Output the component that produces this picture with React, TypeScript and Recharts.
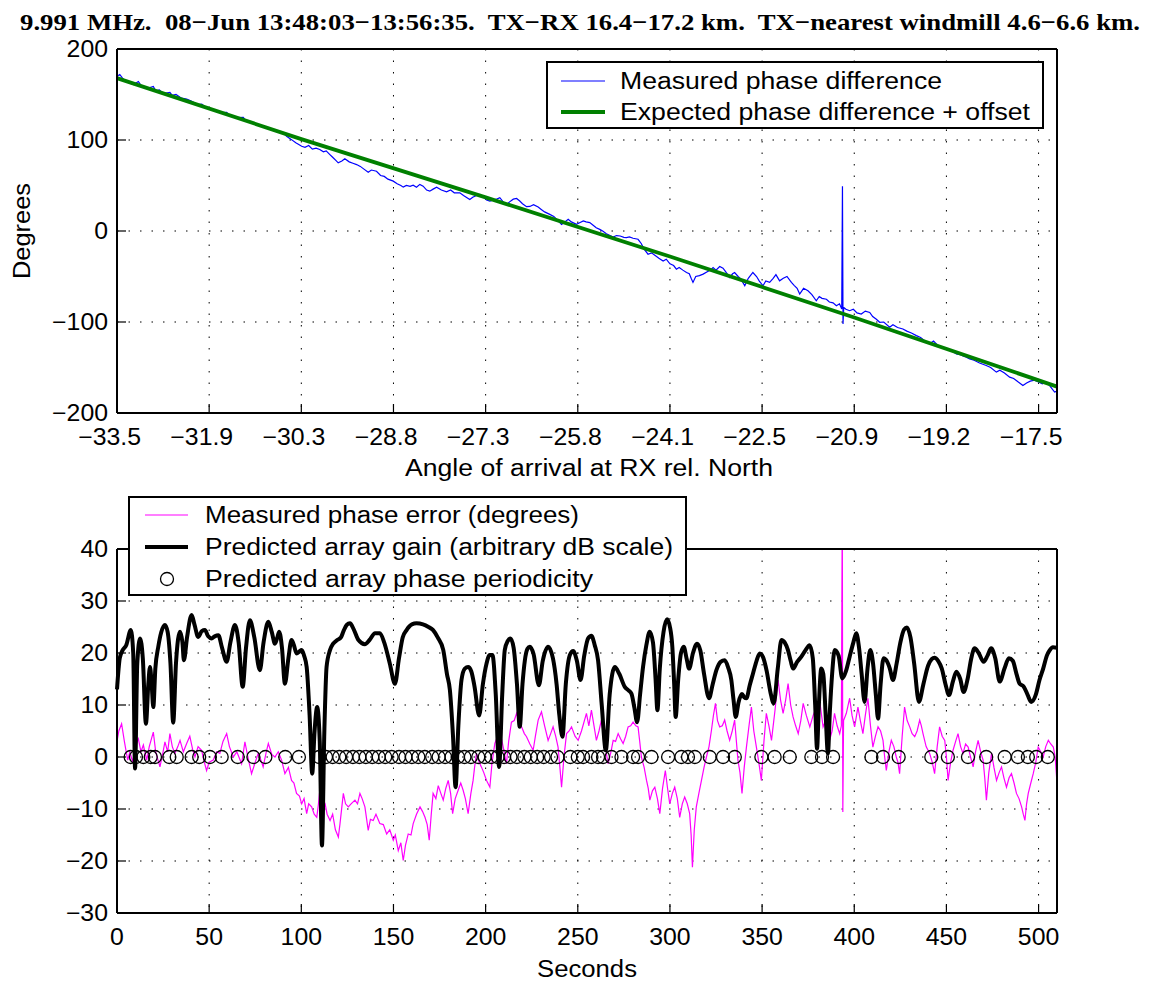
import React from 'react';
import { ComposedChart, Line, Scatter, XAxis, YAxis, CartesianGrid } from 'recharts';

const FONT = '"Liberation Sans", Arial, Helvetica, sans-serif';
const SERIF = '"Liberation Serif", "Times New Roman", serif';

// axis ticks (seconds for both plots; the top plot labels them with the angle of arrival)
const secondTicks = [0, 50, 100, 150, 200, 250, 300, 350, 400, 450, 500];
const angleLabels = ['-33.5', '-31.9', '-30.3', '-28.8', '-27.3', '-25.8', '-24.1', '-22.5', '-20.9', '-19.2', '-17.5'];
const degreeTicks = [-200, -100, 0, 100, 200];
const errorTicks = [-30, -20, -10, 0, 10, 20, 30, 40];

// [seconds, degrees]
const measuredPhase: [number, number][] = [
  [0, 170], [1.5, 172], [3, 168], [5, 164], [7, 162.5], [9, 161], [11.6, 164.3], [13, 160], [15, 158], [17, 157],
  [19.7, 158.8], [21, 154], [23, 155], [25, 151], [28.7, 152.2], [30, 149], [32, 150], [35, 146], [37.8, 145], [40, 143],
  [42, 141], [44, 139], [46, 139.5], [48, 136], [50, 134], [52, 133], [54, 131], [56, 130], [59.5, 130.4], [61, 127],
  [63, 126], [65, 124.5], [68.5, 124.9], [70, 121], [72, 120], [74, 118], [77.5, 115.8], [80, 114], [82, 112.5], [84, 111],
  [87, 109], [90.2, 107.8], [92, 104], [94.7, 100.4], [97, 97], [100.2, 93.1], [102, 92], [104, 94], [106, 90], [108, 91],
  [110, 89.5], [112, 87], [113.5, 88], [115.5, 84], [117, 81], [119, 77], [120, 74.9], [122, 77], [123.6, 79.3], [126, 76],
  [128, 74.5], [130, 73], [132, 71], [134, 68], [136.3, 64.6], [138, 67], [140.8, 65.7], [143, 61], [145, 60], [147, 57],
  [149.9, 54.8], [152, 52], [154, 50], [155.3, 48.2], [157, 50], [159, 49], [160.7, 50.4], [162.5, 48], [164.3, 51.2], [166.1, 49.3],
  [168, 45], [169.7, 43.8], [171.5, 46], [173.4, 48.2], [176, 45], [178.8, 43.1], [181, 45], [183, 42], [186, 42], [188, 39],
  [191.4, 34.7], [193, 37], [195, 39], [196.9, 40.2], [199, 37], [200.5, 34], [202.3, 32.9], [204, 34], [206, 35], [207.7, 36.6],
  [209.5, 32], [211.3, 29.2], [213, 32], [215, 35], [216.8, 35.8], [218.5, 33], [220, 30], [222.2, 26.7], [224, 27], [226, 29],
  [228.5, 26.3], [230, 24], [232, 21], [234.8, 18.3], [237, 16], [239, 12], [241.2, 7.3], [243, 10], [244.8, 12.8], [246.5, 10],
  [249.3, 7.3], [251, 9], [253, 11], [254.5, 10], [256.5, 9.2], [258.5, 6], [260, 3.5], [261.9, 1.8], [263.5, 0], [265.5, -3],
  [267.5, -5], [269.2, -6.6], [271, -5], [273, -5.5], [275, -7], [276.4, -7.2], [278, -6.5], [280, -8], [282.7, -9.1], [284.5, -14],
  [286, -20], [288.1, -25.5], [290, -24], [292, -27], [294, -30], [296.3, -32.9], [298, -31], [300, -36], [302, -38], [303.5, -42],
  [305, -40], [307, -43], [309, -45.6], [310.5, -47], [311.5, -52], [312.5, -56.5], [314, -50], [316, -49], [318, -47.4], [320, -45],
  [322, -43], [323.4, -40.1], [325, -43], [327, -39], [328.8, -40.8], [330, -44], [332.4, -51], [334, -47], [335.1, -45.6], [337, -50],
  [338.5, -53], [340.6, -60.2], [342.5, -52], [345, -45.6], [347, -50], [348.5, -55], [350.5, -60.2], [352, -55], [354.1, -56.5], [356, -52],
  [357.5, -48], [359.5, -54.8], [361.5, -52], [363.5, -50], [365.9, -56.5], [367.5, -60], [369, -63], [370.4, -69.3], [372.5, -63], [374.9, -65.7],
  [377, -70], [379.4, -76.7], [381, -72], [382.5, -74], [384.9, -75], [386.5, -78], [388.5, -79], [390.3, -82.1], [392, -80], [393.2, -85.8],
  [393.6, 49.3], [393.9, -102.2], [394.3, -84], [395.5, -86], [397.5, -87.6], [399.5, -86], [401.5, -90], [403.8, -91.3], [406, -88], [408.4, -89.5],
  [410, -94], [412, -97], [413.8, -100.3], [416, -100], [419.2, -105.8], [421, -103], [423.5, -106], [426.4, -107.7], [428.5, -110], [431, -112],
  [433.7, -115], [436, -117], [438.5, -121], [440.9, -124], [443, -121], [445.5, -126], [448.1, -127.7], [450, -130], [452.5, -131], [455.4, -135],
  [457.5, -136], [460, -138], [462.6, -140.5], [465, -142], [468, -145], [471.6, -147.8], [474, -150], [477.1, -155.1], [479, -153], [481.5, -156],
  [484.3, -160.6], [486.5, -162], [489, -166], [491.5, -169.8], [493.5, -167], [495.5, -165], [497.8, -164], [500, -166], [502, -168], [504.2, -166],
  [506, -170], [508.7, -177], [510, -176],
];

const expectedPhase: [number, number][] = [
  [0, 168], [100, 101], [200, 37], [300, -28], [400, -95], [510, -171],
];

// [seconds, degrees]
const phaseError: [number, number][] = [
  [0, 3], [1, 5], [2.5, 6.4], [4, 3], [5, 1], [5.8, -0.6], [7, 1], [8.5, -1], [10, 2], [11.6, 3.5],
  [13, 1], [14.3, 2.3], [16.1, -0.6], [17.5, 2], [19.7, 4.8], [21, 1], [23.3, -1.9], [25, 1], [26, 2.9], [27.5, 1],
  [28.7, 4.5], [30, 2], [31.4, 0.7], [33, 2], [34.2, 3.2], [36, 1], [37.8, 2.6], [39.5, 4], [41, 1.5], [42.3, 0],
  [44, 2], [45.9, 1.3], [47, -0.5], [48.6, -2.6], [50, -1], [52.2, -0.6], [54, 1], [55.8, 0.7], [57.5, 3], [59.5, 4.5],
  [61, 2], [63.1, 0], [65, 1], [67.6, -1.3], [69.4, 2.9], [71, 0], [73, -3.2], [75, -1], [76.6, 0.7], [78, -0.5],
  [79.3, -1.9], [81, 1], [82.1, 2.6], [84, 0.5], [85.7, 0], [87.5, 1], [89.3, -0.6], [91.1, -3.2], [93, -2], [94.7, -4.5],
  [96, -5], [97.4, -7], [99, -7.5], [100.2, -9], [101.5, -8], [102.9, -10.9], [104, -9], [105.6, -9.6], [107, -11], [108.4, -11.6],
  [109.3, -9], [110.2, -5.8], [111.5, -8], [112.9, -9], [114, -11], [115.6, -12.2], [117, -11], [118.5, -14], [120.1, -15.4], [121, -12.8],
  [122.8, -7], [124, -9], [125.5, -9.6], [127, -9], [129.1, -8.3], [130.5, -9], [131.8, -7], [133, -8], [134.5, -9.6], [136.3, -14.1],
  [137.5, -12], [139, -12.2], [140.5, -11], [142.6, -12.8], [144.5, -13], [146.3, -14.8], [148, -14], [149.9, -16], [151, -15], [152.6, -18],
  [154, -16.5], [155.3, -19.9], [156.5, -17], [158, -14.8], [159.5, -15], [160.7, -12.8], [162.5, -11], [164.4, -9.6], [165.8, -10.5], [167.1, -11.6],
  [168.3, -13], [169.4, -16], [170.5, -11], [171.5, -7], [173, -8], [174.3, -5.5], [175.7, -7], [177, -8.3], [178.4, -6], [179.7, -4.5],
  [181, -7], [182.1, -10.9], [183.5, -8], [185.1, -6.4], [186.5, -5], [187.8, -6.4], [189, -8], [190.5, -10.9], [192, -7], [193.2, -4.5],
  [194, -2], [195, 0.7], [196.5, -1], [197.7, -1.9], [199, -3], [200.5, -4.5], [202.3, -5.8], [203.5, -1], [205, 2.6], [206.5, 4],
  [207.7, 5.1], [209.5, 2], [211.3, -1.3], [212.5, 3], [214, 6.7], [215.5, 7], [216.8, 8.4], [218, 7], [219.5, 5.8], [221, 4.5],
  [222.2, 3.9], [224, 2.5], [225.8, 1.3], [227, 4], [228.5, 7.1], [230.3, 8.7], [232, 6], [233.9, 3.2], [235.3, 4.5], [236.6, 5.8],
  [238, 4], [239.3, 1.9], [240.3, -2], [241.2, -5.8], [242.5, 0], [243.9, 4.5], [245.3, 5], [246.6, 5.8], [248.5, 4], [250.2, 3.2],
  [252, 5], [254.7, 8.4], [256, 6], [257.4, 9], [258.8, 6], [260.1, 3.2], [261.5, 5], [262.8, 7.1], [264.5, 3], [266.4, -1.3],
  [268, 1], [269.2, 3.2], [270.5, 3], [271.9, 4.5], [273.2, 3.5], [274.6, 2.6], [276, 4], [277.3, 5.8], [278.7, 6], [280, 6.7],
  [281.5, 6], [282.7, 5.8], [283.6, 3], [284.5, 0], [286, -2], [287.3, -4.5], [288.2, -6], [289.1, -8.3], [290.5, -6.5], [291.8, -5.8],
  [293.2, -8], [294.5, -10.9], [296, -6], [297.5, -2.6], [298.7, -6], [299.9, -9], [301.3, -7], [302.6, -5.8], [304, -8], [305.3, -11.6],
  [306.7, -9], [308, -7.7], [309.4, -9], [310.7, -10.9], [311.5, -15], [312.2, -21.2], [313.2, -14], [314.3, -9.6], [315.7, -7], [317.1, -4.5],
  [318.5, -2], [319.8, 0], [321.2, 2], [322.5, 5.1], [323.6, 8], [324.7, 10.3], [325.8, 7], [327, 5.8], [328.4, 6], [329.7, 7.1],
  [331, 5], [332.4, 3.2], [333.8, 5], [335.1, 7.1], [336.9, -0.6], [338, -3], [339.1, -7], [340.3, -2], [341.5, 1.9], [342.9, 6],
  [344.2, 9.6], [345.5, 5], [346.9, 1.9], [348.2, -1], [349.6, -4.5], [351, 3], [352.3, 8.4], [353.7, 6], [355.1, 3.2], [357, 9],
  [358.7, 14.8], [360, 11], [361.4, 8.4], [362.8, 11], [364.1, 14.1], [365.5, 10], [366.8, 7.7], [368.2, 6], [369.6, 4.5], [371, 7],
  [372.3, 10.3], [374, 8], [375.9, 5.8], [377.7, 8], [379.5, 9.6], [381.2, 10.9], [383.1, 5.8], [384.5, 7], [386.6, 3.2], [388, 5],
  [389.3, 8.4], [390.7, 6], [392.1, 4.5], [393, 6], [393.5, 48], [393.8, -10.6], [394.2, 7], [395.7, 8.4], [397.5, 11.3], [398.8, 8],
  [400.2, 5.8], [402, 9.6], [403.3, 7], [404.7, 4.5], [406, 8], [407.4, 11.3], [408.8, 6], [410.1, 1.9], [411.5, 4], [412.9, 5.8],
  [414.3, 5], [415.6, 3.2], [416.5, 0], [417.4, -2.6], [418.8, 1], [420.1, 3.2], [421.5, 2], [422.8, 0], [423.7, -1], [424.6, -3.2],
  [426, 4], [427.3, 9.6], [428.7, 7], [430.1, 5.8], [431.4, 4.5], [432.8, 3.9], [434.1, 5], [435.5, 7.1], [436.4, 6], [437.3, 4.5],
  [439, 2], [440.9, 0.7], [442.3, -1], [443.6, -3.2], [445, 2], [446.3, 5.8], [447.7, 4], [449.1, 3.2], [450, 0], [450.9, -4.5],
  [452.3, -1], [453.6, 1.3], [455, 3], [456.3, 4.5], [457.7, 2], [459, 0.7], [460.4, 2.5], [461.8, 1.9], [463.1, 0], [464.5, -1.9],
  [465.8, 1], [467.2, 3.2], [468.6, 1], [469.9, -0.6], [470.8, -4], [471.7, -8.3], [473, -3], [474.5, 0.7], [475.8, -2], [477.2, -4.5],
  [478.6, -3], [479.9, -1.9], [481.2, -4], [482.6, -5.8], [484, -4], [485.3, -3.2], [486.7, -5], [488, -7], [489.4, -8], [490.8, -9.6],
  [491.7, -11], [492.6, -12.2], [493.5, -9], [494.4, -7], [495.8, -5], [497.1, -3.2], [498.5, -1], [499.8, 1.9], [501.2, 1], [502.5, 0],
  [503.9, 2], [505.3, 3.2], [506.6, 2.5], [508, 1.9], [509, 0], [510, -5],
];

// [seconds, dB (arbitrary)]
const arrayGain: [number, number][] = [
  [0, 13], [1.5, 19], [3, 20.5], [5, 21.5], [7.5, 24.4], [8.8, 20], [9.8, -2.2], [11, 18], [12.5, 22.8], [14, 19],
  [15.7, 6.4], [17, 14], [17.9, 17.3], [18.8, 14], [19.7, 9.6], [20.8, 17], [22.4, 21.2], [24, 24], [26, 25.4], [27.5, 24],
  [29, 18], [30.5, 6.6], [32, 18], [34.2, 24.1], [35.5, 22], [36.3, 18.6], [38, 23], [40.5, 27.3], [42, 25.5], [44.1, 23.1],
  [46, 24.2], [47.7, 24.4], [49.5, 23.2], [51.3, 22.8], [53, 23.2], [55, 23.4], [57, 21], [59.5, 18.3], [61.5, 22], [64, 25.4],
  [66, 22], [68.2, 13.5], [70, 21], [72.1, 26.3], [74.5, 23], [77.5, 16.7], [79.5, 22], [82.1, 26], [84, 24], [85.7, 21.8],
  [87, 23], [88, 24.1], [89.5, 21], [91.1, 14.1], [93, 19], [94.7, 22.5], [96, 21.5], [97.4, 19.9], [99, 20.3], [100.2, 20.6],
  [101.5, 19.5], [102.9, 17.3], [104.5, 8], [105.9, -3.2], [107.2, 5], [108.6, 9.6], [110, 3], [111.2, -17], [112.5, 5], [113.7, 17.3],
  [115.5, 20.5], [117.3, 21.8], [119.5, 22.5], [121.5, 23], [123, 24.3], [124.6, 25.4], [126.4, 25.7], [128.5, 24.5], [131, 22.5], [134.5, 21.7],
  [137, 22.5], [140, 23.8], [142.6, 23.8], [145, 22], [148, 18], [150.8, 14.1], [153, 19], [155, 23], [157.1, 24.4], [160, 25.5],
  [162.5, 25.7], [166, 25.5], [169, 25], [171.5, 24.4], [174, 23], [177, 20.6], [179, 16], [180.6, 12.9], [182.3, 4], [183.7, -5.8],
  [185.2, 6], [186.9, 14.8], [188.7, 17], [190.5, 17.3], [192.2, 16.5], [194, 13.5], [196.5, 8], [198.5, 14], [200.5, 18], [202.2, 19.6],
  [203.7, 19.6], [205.5, 12], [207.3, -1.9], [209, 12], [210.4, 20.6], [212, 22.3], [213.5, 22.8], [215.2, 21], [217, 14], [218.5, 5.8],
  [220, 14], [221.3, 18.6], [222.7, 20.8], [224, 21.2], [226, 19.8], [228.9, 13.8], [231, 18.5], [233.9, 21.2], [236.5, 19], [238.5, 14],
  [240, 8], [241.7, 3.9], [243.5, 14], [245.7, 19.6], [247.5, 20.4], [249.5, 18.5], [251.5, 14.8], [253.5, 19.5], [255.6, 22.8], [257.4, 23.3],
  [259.2, 21.5], [261, 18.6], [263, 10], [265.2, 1.3], [267.3, 12], [270.1, 17.3], [272.5, 16], [275.5, 13.5], [277.5, 12.8], [279.1, 12.2],
  [280.7, 9.5], [282.2, 6.7], [283.8, 12], [285.4, 17.3], [287.2, 21.5], [289, 24.1], [290.8, 22], [292.2, 15], [293.2, 9], [294.5, 17],
  [296.5, 24], [298.4, 26.5], [300, 25], [301.3, 21.2], [302.3, 14], [303.1, 7.7], [304.5, 15], [306, 20], [307.5, 21.2], [309, 19],
  [310.4, 17], [312.5, 20], [314.7, 21.8], [316.5, 20.5], [318.5, 16], [321.2, 11.3], [323.2, 14], [325.2, 16.7], [327.5, 18.3], [329.7, 18.6],
  [331.5, 17.3], [333.3, 14.8], [334.5, 11], [335.7, 7.7], [337.2, 10.5], [339.1, 12.1], [340.3, 11.5], [341.5, 11.3], [343.3, 13.8], [345.1, 16.1],
  [347, 18.5], [348.7, 19.9], [350.5, 19.2], [352.5, 16.5], [354.5, 12.5], [356.3, 10.3], [358.5, 17], [360.5, 22.5], [362.3, 22], [364, 20.6],
  [365.5, 18.5], [366.8, 17], [369, 18.3], [371.3, 19.3], [373.5, 20.5], [375.8, 21.5], [377.5, 19], [378.8, 10], [379.8, 1.6], [380.8, 10],
  [382.1, 17], [383.2, 16], [384.5, 8], [385.7, 0.7], [386.8, 9], [388, 16], [389.4, 20.6], [391.5, 19.5], [393.5, 15.1], [395.5, 16.5],
  [397.5, 19.3], [399.5, 22], [401.1, 23.8], [402.6, 21], [404, 16], [405.6, 10.6], [407.2, 17], [408.7, 20.6], [410.2, 18], [411.7, 12],
  [412.9, 7.4], [414.3, 14], [415.9, 19], [417.6, 18.5], [419.3, 17], [421, 14.8], [423, 18], [425, 22], [427, 24.5], [428.6, 24.9],
  [430.5, 23], [432.5, 18], [435.1, 10.6], [437.5, 14], [440, 17.5], [442, 18.8], [443.6, 19.1], [445.5, 18.5], [447.5, 17], [449.5, 14],
  [451.4, 11.9], [453.5, 14.5], [455.4, 16.4], [457.5, 15], [459.3, 12.5], [461.5, 15], [463.5, 19], [465.3, 20.9], [467.5, 20], [470.2, 18.3],
  [472.3, 19.5], [474.3, 20.9], [476.5, 19], [478.9, 14.5], [481.5, 17], [483.9, 19], [486, 18.5], [488, 16], [489.7, 14.1], [492, 13.5],
  [494, 12], [496, 10.6], [498.5, 12], [500.5, 14.8], [502.5, 17], [504.5, 19.5], [506, 20.5], [507.8, 21.1], [510, 21],
];

// seconds at which the predicted array phase repeats (drawn at 0)
const periodicityTimes = [
  7.4, 10.3, 14.3, 18.3, 20.6, 28.4, 32.4, 40.5, 44.6, 50.4, 56.8, 65.5, 74, 80.5, 91.3, 98.7, 109.7, 113.4, 117, 120.6,
  124.3, 128, 131.5, 135, 138.5, 142, 145.5, 149, 153, 156.5, 160, 163.5, 167, 171, 174.5, 178, 181.5, 185, 188.5, 192,
  196, 199.5, 203, 206.5, 210, 213.5, 217, 221, 224.5, 228, 231.5, 235.5, 239, 246, 250, 252.9, 257.4, 261, 263.7, 268.3,
  273.7, 280, 282.7, 290, 299, 306.2, 309.8, 313.5, 321.6, 328.8, 335.2, 349.6, 356.8, 365, 376.7, 382.5, 388.5, 409.3, 415.6,
  424.1, 441.8, 450.8, 461.7, 471.6, 481.6, 488.8, 494.2, 498.7, 505,
];

const rows = (pts: [number, number][]) => pts.map(([t, v]) => ({ t, v }));
const minus = (s: string) => s.replace('-', '\u2212');

const TS = 23;
const textProps = { fontSize: TS, fontFamily: FONT, fill: '#000' };

const bottomTick = (labels?: string[]) => (p: any) => {
  const { x, y, payload } = p;
  const i = secondTicks.indexOf(payload.value);
  const raw = labels ? labels[i] : String(payload.value);
  const neg = raw.startsWith('-');
  const tx = neg ? x + 24 : x;
  return (
    <g>
      <line x1={x} y1={y} x2={x} y2={y - 9} stroke="#000" strokeWidth={1.2} />
      <text transform={`translate(${tx},${y + 32}) scale(1.08,1)`} textAnchor={neg ? 'end' : 'middle'} {...textProps}>
        {minus(raw)}
      </text>
    </g>
  );
};

const leftTick = (p: any) => {
  const { x, y, payload } = p;
  return (
    <g>
      <line x1={x} y1={y} x2={x + 9} y2={y} stroke="#000" strokeWidth={1.2} />
      <text transform={`translate(${x - 9},${y + 8}) scale(1.08,1)`} textAnchor="end" {...textProps}>
        {minus(String(payload.value))}
      </text>
    </g>
  );
};

const topTick = (p: any) => (
  <line x1={p.x} y1={p.y} x2={p.x} y2={p.y + 9} stroke="#000" strokeWidth={1.2} />
);

const rightTick = (p: any) => (
  <line x1={p.x} y1={p.y} x2={p.x - 9} y2={p.y} stroke="#000" strokeWidth={1.2} />
);

const frame = { stroke: '#000', strokeWidth: 2 };

const Circle = (p: any) => (
  <circle cx={p.cx} cy={p.cy} r={6.5} fill="none" stroke="#000" strokeWidth={1.3} />
);

const TITLE = '9.991 MHz.  08\u2212Jun 13:48:03\u221213:56:35.  TX\u2212RX 16.4\u221217.2 km.  TX\u2212nearest windmill 4.6\u22126.6 km.';

export default function App() {
  const measuredRows = rows(measuredPhase);
  const expectedRows = rows(expectedPhase);
  const errorRows = rows(phaseError);
  const gainRows = rows(arrayGain);
  const circleRows = periodicityTimes.map((t) => ({ t, v: 0 }));

  return (
    <div style={{ position: 'absolute', left: 0, top: 0, width: 1160, height: 983, background: '#fff' }}>
      <div style={{ position: 'absolute', left: 0, top: 0 }}>
        <ComposedChart width={1160} height={490} margin={{ top: 48, right: 0, bottom: 0, left: 0 }}>
          <CartesianGrid stroke="#000" strokeDasharray="1.5 10" strokeWidth={1} />
          <XAxis dataKey="t" type="number" domain={[0, 510]} ticks={secondTicks} interval={0} height={77}
            tickSize={0} tickMargin={0} tickLine={false} axisLine={frame} tick={bottomTick(angleLabels)} />
          <XAxis xAxisId="top" orientation="top" type="number" domain={[0, 510]} ticks={secondTicks} interval={0} height={1}
            tickSize={0} tickMargin={0} tickLine={false} axisLine={frame} tick={topTick} />
          <YAxis type="number" domain={[-200, 200]} ticks={degreeTicks} interval={0} width={117}
            tickSize={0} tickMargin={0} tickLine={false} axisLine={frame} tick={leftTick} />
          <YAxis yAxisId="right" orientation="right" type="number" domain={[-200, 200]} ticks={degreeTicks} interval={0} width={103}
            tickSize={0} tickMargin={0} tickLine={false} axisLine={frame} tick={rightTick} />
          <Line data={measuredRows} dataKey="v" type="linear" stroke="#0000ff" strokeWidth={1.2} dot={false} isAnimationActive={false} />
          <Line data={expectedRows} dataKey="v" type="linear" stroke="#008000" strokeWidth={3.8} dot={false} isAnimationActive={false} />
        </ComposedChart>
      </div>

      <div style={{ position: 'absolute', left: 0, top: 490 }}>
        <ComposedChart width={1160} height={493} margin={{ top: 58, right: 0, bottom: 0, left: 0 }}>
          <CartesianGrid stroke="#000" strokeDasharray="1.5 10" strokeWidth={1} />
          <XAxis dataKey="t" type="number" domain={[0, 510]} ticks={secondTicks} interval={0} height={70}
            tickSize={0} tickMargin={0} tickLine={false} axisLine={frame} tick={bottomTick()} />
          <XAxis xAxisId="top" orientation="top" type="number" domain={[0, 510]} ticks={secondTicks} interval={0} height={1}
            tickSize={0} tickMargin={0} tickLine={false} axisLine={frame} tick={topTick} />
          <YAxis type="number" domain={[-30, 40]} allowDataOverflow ticks={errorTicks} interval={0} width={117}
            tickSize={0} tickMargin={0} tickLine={false} axisLine={frame} tick={leftTick} />
          <YAxis yAxisId="right" orientation="right" type="number" domain={[-30, 40]} ticks={errorTicks} interval={0} width={103}
            tickSize={0} tickMargin={0} tickLine={false} axisLine={frame} tick={rightTick} />
          <Line data={errorRows} dataKey="v" type="linear" stroke="#ff00ff" strokeWidth={1.2} dot={false} isAnimationActive={false} />
          <Line data={gainRows} dataKey="v" type="monotone" stroke="#000" strokeWidth={4} dot={false} isAnimationActive={false} />
          <Scatter data={circleRows} dataKey="v" shape={Circle} isAnimationActive={false} />
        </ComposedChart>
      </div>

      <svg width={1160} height={983} style={{ position: 'absolute', left: 0, top: 0, pointerEvents: 'none' }}>
        <text x={580} y={30} textAnchor="middle" textLength={1120} lengthAdjust="spacingAndGlyphs" xmlSpace="preserve"
          style={{ whiteSpace: 'pre' }} fontFamily={SERIF} fontWeight="bold" fontSize={24} fill="#000">
          {TITLE}
        </text>
        <text transform="translate(30,231) rotate(-90)" textAnchor="middle" textLength={96} lengthAdjust="spacingAndGlyphs" {...textProps}>
          Degrees
        </text>
        <text x={589} y={476} textAnchor="middle" textLength={368} lengthAdjust="spacingAndGlyphs" {...textProps}>
          Angle of arrival at RX rel. North
        </text>
        <text x={587} y={977} textAnchor="middle" textLength={100} lengthAdjust="spacingAndGlyphs" {...textProps}>
          Seconds
        </text>

        <rect x={547} y={62} width={496} height={66} fill="#fff" stroke="#000" strokeWidth={2} />
        <line x1={561} y1={81} x2={605} y2={81} stroke="#0000ff" strokeWidth={1.2} />
        <line x1={561} y1={112} x2={605} y2={112} stroke="#008000" strokeWidth={3.8} />
        <text x={620} y={89} textLength={322} lengthAdjust="spacingAndGlyphs" {...textProps}>Measured phase difference</text>
        <text x={620} y={120} textLength={410} lengthAdjust="spacingAndGlyphs" {...textProps}>Expected phase difference + offset</text>

        <rect x={129} y={497} width={557} height={98} fill="#fff" stroke="#000" strokeWidth={2} />
        <line x1={145} y1={515} x2={188} y2={515} stroke="#ff00ff" strokeWidth={1.2} />
        <line x1={145} y1={547} x2={188} y2={547} stroke="#000" strokeWidth={4} />
        <circle cx={167} cy={579} r={6.5} fill="none" stroke="#000" strokeWidth={1.3} />
        <text x={205} y={523} textLength={374} lengthAdjust="spacingAndGlyphs" {...textProps}>Measured phase error (degrees)</text>
        <text x={205} y={555} textLength={468} lengthAdjust="spacingAndGlyphs" {...textProps}>Predicted array gain (arbitrary dB scale)</text>
        <text x={205} y={587} textLength={388} lengthAdjust="spacingAndGlyphs" {...textProps}>Predicted array phase periodicity</text>
      </svg>
    </div>
  );
}
